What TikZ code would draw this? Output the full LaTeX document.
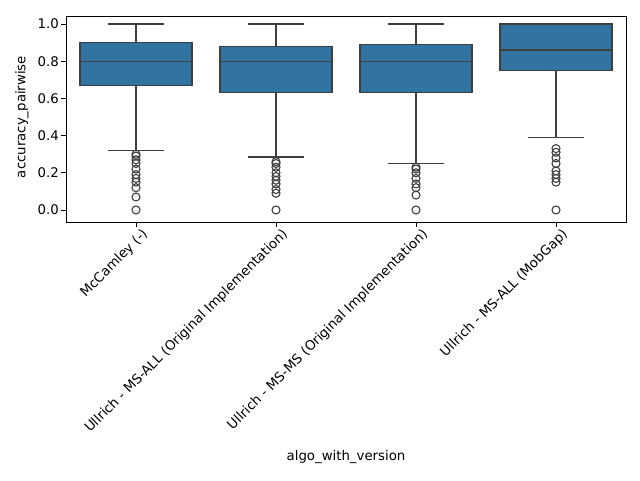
\documentclass[tikz,border=0pt]{standalone}
\usepackage{fontspec}
\setmainfont{DejaVu Sans}
\begin{document}
\begin{tikzpicture}[x=1pt,y=1pt,
  lab/.style={font=\fontsize{13.3}{16}\selectfont, inner sep=1pt},
  bx/.style={fill=boxblue, draw=lg, line width=1.2pt},
  ln/.style={draw=lg, line width=1.2pt},
  fl/.style={draw=lg, line width=1.1pt, fill=none}]
\definecolor{boxblue}{HTML}{3274A1}
\definecolor{lg}{HTML}{3F3F3F}
\useasboundingbox (0,0) rectangle (640,480);
\begin{scope}[yshift=270pt, y=186pt]
\draw[line width=0.8pt] (66,-0.0645) rectangle (626,1.043);
\foreach \v/\t in {0/0.0,0.2/0.2,0.4/0.4,0.6/0.6,0.8/0.8,1.0/1.0}{
  \draw[line width=0.8pt] (66,\v) -- ++(-4.8,0);
  \node[lab,anchor=east] at (60,\v) {\t};
}
\foreach \c/\wl/\qa/\md/\qb/\wh in {136/0.32/0.67/0.80/0.90/1.0, 276/0.285/0.63/0.80/0.88/1.0, 416/0.25/0.63/0.80/0.89/1.0, 556/0.39/0.75/0.86/1.0/1.0}{
  \draw[ln] (\c,\wl) -- (\c,\qa);
  \draw[ln] (\c,\qb) -- (\c,\wh);
  \draw[ln] (\c-28,\wl) -- (\c+28,\wl);
  \draw[ln] (\c-28,\wh) -- (\c+28,\wh);
  \draw[bx] (\c-56,\qa) rectangle (\c+56,\qb);
  \draw[ln] (\c-56,\md) -- (\c+56,\md);
  \draw[line width=0.8pt] (\c,-0.0645) -- ++(0,-4.8pt);
}
\foreach \v in {0.30,0.29,0.27,0.25,0.22,0.19,0.17,0.15,0.12,0.07,0.0}
  \draw[fl] (136,\v) circle[radius=4pt];
\foreach \v in {0.26,0.25,0.23,0.20,0.18,0.16,0.14,0.11,0.09,0.0}
  \draw[fl] (276,\v) circle[radius=4pt];
\foreach \v in {0.23,0.22,0.20,0.17,0.14,0.12,0.08,0.0}
  \draw[fl] (416,\v) circle[radius=4pt];
\foreach \v in {0.33,0.31,0.28,0.25,0.21,0.19,0.17,0.15,0.0}
  \draw[fl] (556,\v) circle[radius=4pt];
\end{scope}
\node[lab,anchor=north east,rotate=45] (l1) at (141,254) {McCamley (-)};
\node[lab,anchor=north east,rotate=45] (l2) at (281,254) {Ullrich - MS-ALL (Original Implementation)};
\node[lab,anchor=north east,rotate=45] (l3) at (421,254) {Ullrich - MS-MS (Original Implementation)};
\node[lab,anchor=north east,rotate=45] (l4) at (561,254) {Ullrich - MS-ALL (MobGap)};
\node[lab] (xl) at (346,23) {algo\_with\_version};
\node[lab,rotate=90] (yl) at (22,363) {accuracy\_pairwise};
\end{tikzpicture}
\end{document}
